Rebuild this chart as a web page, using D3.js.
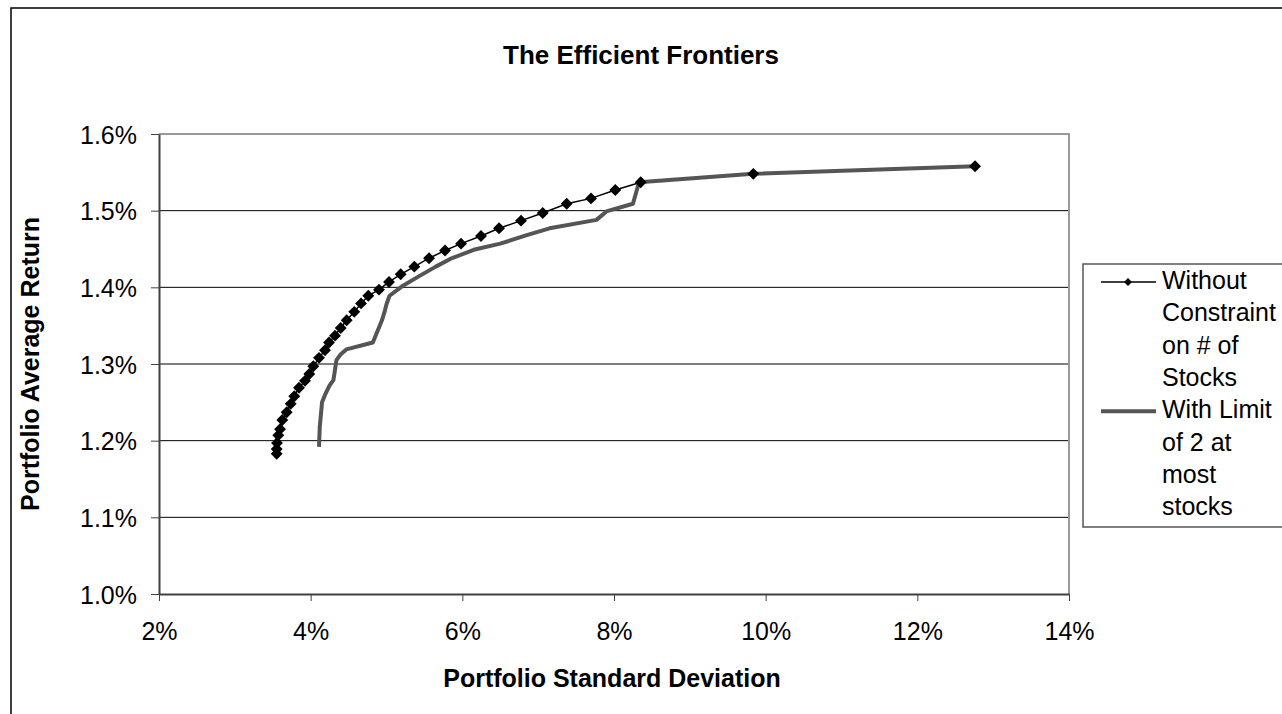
<!DOCTYPE html>
<html>
<head>
<meta charset="utf-8">
<style>
  body { margin: 0; background: #fff; }
  svg { display: block; font-family: "Liberation Sans", Arial, sans-serif; }
</style>
<script src="https://cdn.jsdelivr.net/npm/d3@7"></script>
</head>
<body>
<div id="chart"></div>
<script>

var title = "The Efficient Frontiers";
var xTitle = "Portfolio Standard Deviation";
var yTitle = "Portfolio Average Return";

var xTicks = [2, 4, 6, 8, 10, 12, 14];
var xTickLabels = ["2%", "4%", "6%", "8%", "10%", "12%", "14%"];
var yTicks = [1.0, 1.1, 1.2, 1.3, 1.4, 1.5, 1.6];
var yTickLabels = ["1.0%", "1.1%", "1.2%", "1.3%", "1.4%", "1.5%", "1.6%"];

// legend text, one entry per line as in the original box
var seriesNames = ["Without Constraint on # of Stocks", "With Limit of 2 at most stocks"];
var legendLines = [["Without", "Constraint", "on # of", "Stocks"], ["With Limit", "of 2 at", "most", "stocks"]];

// without constraint (std dev %, return %)
var freeSd = [3.552, 3.552, 3.556, 3.573, 3.596, 3.626, 3.684, 3.737, 3.784, 3.846,
  3.925, 3.982, 4.035, 4.110, 4.189, 4.242, 4.321, 4.396, 4.475, 4.575,
  4.664, 4.760, 4.901, 5.033, 5.187, 5.367, 5.561, 5.772, 5.983, 6.246,
  6.484, 6.774, 7.060, 7.376, 7.697, 8.017, 8.352, 9.837, 12.761];
var freeRet = [1.183, 1.189, 1.197, 1.207, 1.215, 1.227, 1.237, 1.248, 1.258, 1.269,
  1.278, 1.287, 1.297, 1.308, 1.318, 1.328, 1.337, 1.347, 1.357, 1.368,
  1.379, 1.389, 1.397, 1.407, 1.417, 1.427, 1.438, 1.448, 1.457, 1.467,
  1.477, 1.487, 1.497, 1.509, 1.516, 1.527, 1.537, 1.548, 1.558];

// at most 2 stocks
var limSd = [4.11, 4.12, 4.15, 4.19, 4.25, 4.30, 4.34, 4.39, 4.47, 4.82,
  4.94, 4.98, 5.00, 5.04, 5.20, 5.42, 5.65, 5.84, 6.15, 6.50,
  6.85, 7.15, 7.77, 7.90, 8.25, 8.33, 9.837, 12.761];
var limRet = [1.192, 1.218, 1.250, 1.260, 1.272, 1.279, 1.305, 1.312, 1.319, 1.328,
  1.357, 1.370, 1.378, 1.389, 1.401, 1.414, 1.427, 1.437, 1.449, 1.457,
  1.468, 1.477, 1.488, 1.499, 1.509, 1.537, 1.548, 1.558];

var width = 1282, height = 714;
var plot = { left: 159, top: 134, right: 1069, bottom: 594 };

var svg = d3.select("#chart").append("svg")
  .attr("width", width)
  .attr("height", height);

var x = d3.scaleLinear().domain([2, 14]).range([plot.left, plot.right]);
var y = d3.scaleLinear().domain([1.0, 1.6]).range([plot.bottom, plot.top]);

// chart area border
svg.append("rect")
  .attr("x", 11).attr("y", 8)
  .attr("width", width).attr("height", height)
  .attr("fill", "#fff")
  .attr("stroke", "#000")
  .attr("stroke-width", 1.5);

svg.append("text")
  .attr("x", 641).attr("y", 64)
  .attr("text-anchor", "middle")
  .style("font-size", "26px")
  .style("font-weight", "bold")
  .text(title);

// gridlines
svg.append("g")
  .selectAll("line")
  .data(yTicks.slice(1))
  .enter().append("line")
  .attr("x1", plot.left).attr("x2", plot.right)
  .attr("y1", function(d) { return y(d); })
  .attr("y2", function(d) { return y(d); })
  .attr("stroke", "#000")
  .attr("stroke-width", 1);

// plot area border (top / right in grey)
svg.append("path")
  .attr("d", "M" + plot.left + "," + plot.top + "H" + plot.right + "V" + plot.bottom)
  .attr("fill", "none")
  .attr("stroke", "#9a9a9a")
  .attr("stroke-width", 2);

var xAxis = d3.axisBottom(x)
  .tickValues(xTicks)
  .tickFormat(function(d, i) { return xTickLabels[i]; })
  .tickSize(7)
  .tickSizeOuter(0);

var yAxis = d3.axisLeft(y)
  .tickValues(yTicks)
  .tickFormat(function(d, i) { return yTickLabels[i]; })
  .tickSize(8)
  .tickSizeOuter(0);

var gx = svg.append("g")
  .attr("transform", "translate(0," + plot.bottom + ")")
  .call(xAxis);
gx.select(".domain").attr("stroke", "#404040").attr("stroke-width", 2);
gx.selectAll(".tick line").attr("stroke", "#404040").attr("stroke-width", 1);
gx.selectAll(".tick text")
  .attr("y", 0).attr("dy", "1.84em")
  .attr("fill", "#000")
  .style("font-size", "25px")
  .style("font-family", "Liberation Sans, Arial, sans-serif");

var gy = svg.append("g")
  .attr("transform", "translate(" + plot.left + ",0)")
  .call(yAxis);
gy.select(".domain").attr("stroke", "#404040").attr("stroke-width", 2);
gy.selectAll(".tick line").attr("stroke", "#404040").attr("stroke-width", 1);
gy.selectAll(".tick text")
  .attr("x", -22)
  .attr("dy", "0.36em")
  .attr("fill", "#000")
  .style("font-size", "25px")
  .style("font-family", "Liberation Sans, Arial, sans-serif");

svg.append("text")
  .attr("x", 612).attr("y", 687)
  .attr("text-anchor", "middle")
  .style("font-size", "25px")
  .style("font-weight", "bold")
  .text(xTitle);

svg.append("text")
  .attr("transform", "translate(39,364) rotate(-90)")
  .attr("text-anchor", "middle")
  .style("font-size", "25px")
  .style("font-weight", "bold")
  .text(yTitle);

var free = freeSd.map(function(d, i) { return [d, freeRet[i]]; });
var lim = limSd.map(function(d, i) { return [d, limRet[i]]; });

var line = d3.line()
  .x(function(d) { return x(d[0]); })
  .y(function(d) { return y(d[1]); });

svg.append("path")
  .datum(free)
  .attr("d", line)
  .attr("fill", "none")
  .attr("stroke", "#000")
  .attr("stroke-width", 1.5);

svg.append("path")
  .datum(lim)
  .attr("d", line)
  .attr("fill", "none")
  .attr("stroke", "#555")
  .attr("stroke-width", 4)
  .attr("stroke-linejoin", "round");

var diamond = d3.symbol().type(d3.symbolDiamond2).size(90);

svg.append("g")
  .selectAll("path")
  .data(free)
  .enter().append("path")
  .attr("d", diamond)
  .attr("transform", function(d) { return "translate(" + x(d[0]) + "," + y(d[1]) + ")"; })
  .attr("fill", "#000");

// legend
var legend = svg.append("g");
legend.append("rect")
  .attr("x", 1083).attr("y", 264)
  .attr("width", 220).attr("height", 263)
  .attr("fill", "#fff")
  .attr("stroke", "#555")
  .attr("stroke-width", 1.5);

var lineH = 32.3;
legendLines.forEach(function(lines, s) {
  var top = 289 + s * 4 * lineH;
  var cy = top - 7;
  legend.append("line")
    .attr("x1", 1101).attr("x2", 1156)
    .attr("y1", cy).attr("y2", cy)
    .attr("stroke", s === 0 ? "#000" : "#555")
    .attr("stroke-width", s === 0 ? 1.5 : 4);
  if (s === 0) {
    legend.append("path")
      .attr("d", d3.symbol().type(d3.symbolDiamond2).size(40))
      .attr("transform", "translate(1128," + cy + ")")
      .attr("fill", "#000");
  }
  legend.append("text")
    .attr("class", "legend-label")
    .attr("x", 1162).attr("y", top)
    .style("font-size", "25px")
    .attr("aria-label", seriesNames[s])
    .selectAll("tspan")
    .data(lines)
    .enter().append("tspan")
    .attr("x", 1162)
    .attr("dy", function(d, i) { return i === 0 ? 0 : lineH; })
    .text(function(d) { return d; });
});

</script>
</body>
</html>
